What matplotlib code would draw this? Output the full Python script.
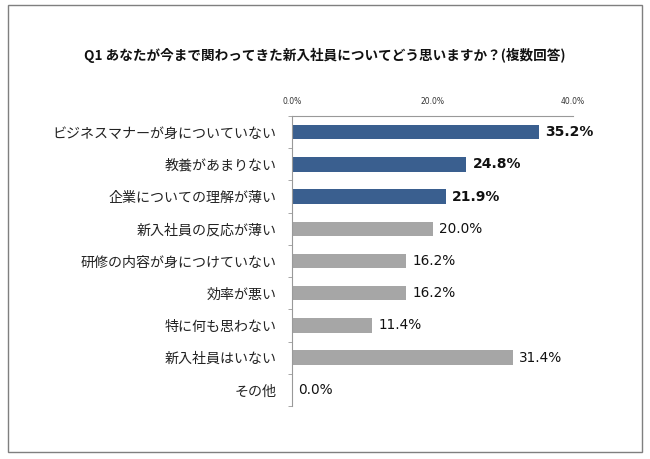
import matplotlib
matplotlib.use("Agg")
import matplotlib.pyplot as plt
from matplotlib.patches import Rectangle

plt.rcParams['font.family'] = ['Noto Sans CJK JP', 'DejaVu Sans']

categories = ["ビジネスマナーが身についていない", "教養があまりない", "企業についての理解が薄い",
              "新入社員の反応が薄い", "研修の内容が身につけていない", "効率が悪い",
              "特に何も思わない", "新入社員はいない", "その他"]
values = [35.2, 24.8, 21.9, 20.0, 16.2, 16.2, 11.4, 31.4, 0.0]
highlight = [True, True, True, False, False, False, False, False, False]
xticks = [0, 20, 40]
xtick_labels = ["0.0%", "20.0%", "40.0%"]
title = "Q1 あなたが今まで関わってきた新入社員についてどう思いますか？(複数回答)"

fig = plt.figure(figsize=(6.5, 4.59), dpi=100)
fig.patch.set_facecolor("white")
fig.add_artist(Rectangle((8/650, 1-452/459), 634/650, 447/459, transform=fig.transFigure,
                         fill=False, edgecolor="#7f7f7f", linewidth=1.0))

ax = fig.add_axes([292/650, 1-406/459, 281/650, 290/459])
n = len(categories)
ys = list(range(n))
colors = ["#3A5F8F" if h else "#A6A6A6" for h in highlight]
ax.barh(ys, values, height=0.45, color=colors)
ax.set_ylim(n - 0.5, -0.5)
ax.set_xlim(0, 40)

ax.xaxis.tick_top()
ax.set_xticks(xticks)
ax.set_xticklabels(xtick_labels, fontsize=5.5, color="#333333", family="DejaVu Sans")
ax.tick_params(axis='x', length=0, pad=7)

ax.set_yticks(ys)
ax.set_yticklabels(categories, fontsize=10.1, color="#222222")
ax.set_yticks([i + 0.5 for i in range(-1, n)], minor=True)
ax.tick_params(axis='y', which='major', length=0, pad=11)
ax.tick_params(axis='y', which='minor', length=3, color="#999999", direction='out')

for s in ["right", "bottom"]:
    ax.spines[s].set_visible(False)
ax.spines["left"].set_color("#999999")
ax.spines["top"].set_color("#999999")
ax.spines["left"].set_linewidth(0.8)
ax.spines["top"].set_linewidth(0.8)

for y, v, h in zip(ys, values, highlight):
    ax.text(v + 0.9, y, f"{v:.1f}%", va='center', ha='left', family="DejaVu Sans",
            fontsize=10 if h else 9.8, fontweight='bold' if h else 'normal', color="#111111")

fig.text(325/650, 1-55/459, title, ha='center', va='center', fontsize=9.8, fontweight='bold', color="#111111")

fig.savefig("out.png", dpi=100)
